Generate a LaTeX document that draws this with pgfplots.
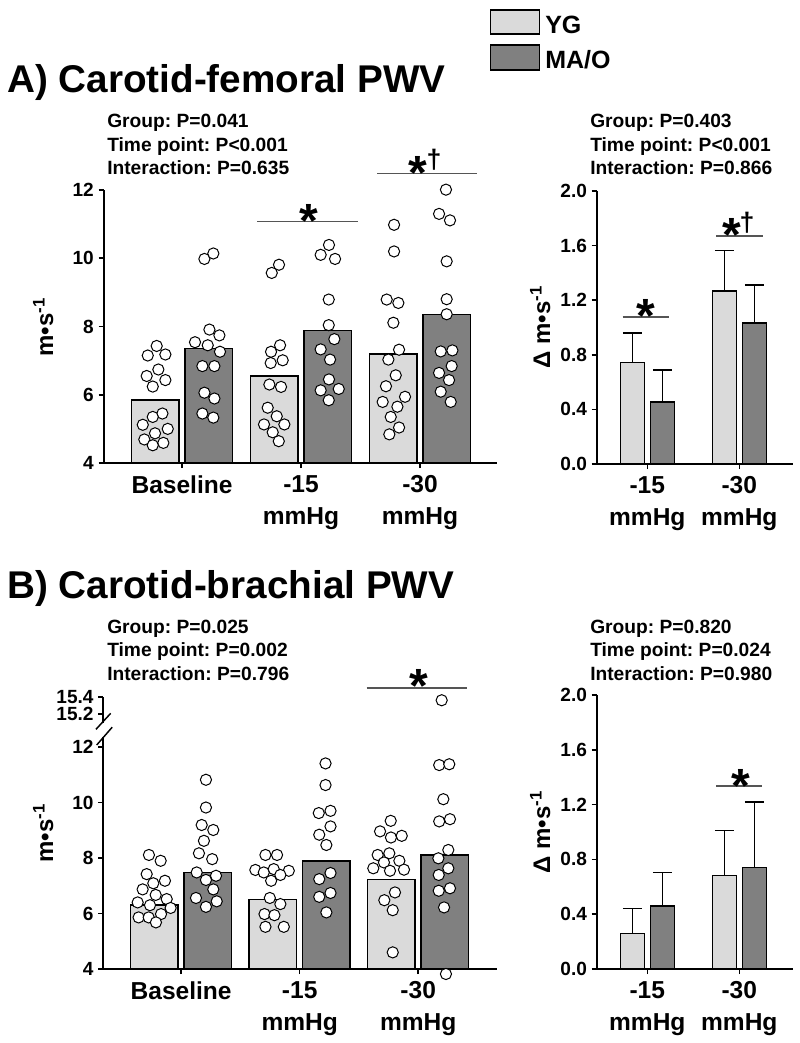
\documentclass[border=0pt]{standalone}
\usepackage{pgfplots}
\pgfplotsset{compat=1.18}
\usepackage{fontspec}
\setmainfont{Liberation Sans}
\frenchspacing
\definecolor{ygc}{RGB}{218,218,218}
\definecolor{mac}{RGB}{128,128,128}
\definecolor{sigc}{RGB}{85,85,85}
\pgfplotsset{
  panel/.style={scale only axis, axis lines*=left, axis line style={-, line width=1.5pt, black},
    tick align=outside, major tick length=3.75pt, tick style={line width=1.2pt, black},
    clip=false, enlargelimits=false,
    xticklabel style={align=center, font=\fontsize{18.4}{24}\selectfont\bfseries, yshift=-2pt},
    yticklabel style={font=\fontsize{14.3}{17}\selectfont\bfseries}},
  ygbar/.style={ybar, bar width=#1, fill=ygc, draw=black, line width=1.1pt},
  mabar/.style={ybar, bar width=#1, fill=mac, draw=black, line width=1.1pt},
  dots/.style={only marks, mark=*, mark size=4.2pt, mark options={fill=white, draw=black, line width=0.75pt}},
  ebar/.style={error bars/.cd, y dir=plus, y explicit, error bar style={line width=1.1pt, black},
    error mark options={rotate=90, mark size=7.1pt, line width=1.1pt, black}}
}
\begin{document}
\begin{tikzpicture}[x=0.75pt,y=0.75pt]
\path[use as bounding box] (0,0) rectangle (800,-1043);
\tikzset{stat/.style={anchor=base west, inner sep=0pt, font=\fontsize{14.4}{17}\selectfont\bfseries},
  ttl/.style={anchor=base west, inner sep=0pt, font=\fontsize{29}{30}\selectfont\bfseries},
  star/.style={anchor=base, inner sep=0pt, font=\fontsize{36}{36}\selectfont\bfseries},
  dag/.style={anchor=base, inner sep=0pt, font=\fontsize{20}{20}\selectfont\bfseries},
  ylab/.style={rotate=90, anchor=base, inner sep=0pt, font=\fontsize{18}{20}\selectfont\bfseries}}

% ---------------- Legend ----------------
\draw[line width=1.1pt, fill=ygc] (490.7,-10) rectangle (539.3,-34);
\draw[line width=1.1pt, fill=mac] (490.7,-45) rectangle (539.3,-70);
\node[anchor=base west, inner sep=0pt, font=\fontsize{18.75}{20}\selectfont\bfseries] at (545,-33) {YG};
\node[anchor=base west, inner sep=0pt, font=\fontsize{18.75}{20}\selectfont\bfseries] at (545,-68) {MA/O};

% ---------------- Titles and statistics ----------------
\node[ttl] at (7,-92) {A) Carotid-femoral PWV};
\node[ttl] at (7,-598.3) {B) Carotid-brachial PWV};
\node[stat] at (107,-127.7) {Group: P=0.041};
\node[stat] at (107,-151.3) {Time point: P<0.001};
\node[stat] at (107,-174.5) {Interaction: P=0.635};
\node[stat] at (590,-127.7) {Group: P=0.403};
\node[stat] at (590,-151.3) {Time point: P<0.001};
\node[stat] at (590,-174.5) {Interaction: P=0.866};
\node[stat] at (107,-633.3) {Group: P=0.025};
\node[stat] at (107,-656.7) {Time point: P=0.002};
\node[stat] at (107,-680) {Interaction: P=0.796};
\node[stat] at (590,-633.3) {Group: P=0.820};
\node[stat] at (590,-656.7) {Time point: P=0.024};
\node[stat] at (590,-680) {Interaction: P=0.980};

% ---------------- A, left ----------------
\begin{axis}[panel, at={(77.625pt,-347.25pt)}, anchor=south west, width=295.125pt, height=204.75pt,
  xmin=-0.660, xmax=2.647, ymin=0, ymax=8,
  y filter/.expression={y-4},
  xtick={0,1,2}, xticklabels={Baseline,{-15\\mmHg},{-30\\mmHg}},
  ytick={0,2,4,6,8}, yticklabels={4,6,8,10,12}]
\addplot[ygbar=35.6pt, bar shift=-20.06pt] coordinates {(0,5.85) (1,6.55) (2,7.20)};
\addplot[mabar=35.6pt, bar shift=20.06pt] coordinates {(0,7.36) (1,7.88) (2,8.35)};
\addplot[dots] coordinates {
(-0.213,7.43) (-0.288,7.15) (-0.140,7.18) (-0.199,6.74) (-0.297,6.55) (-0.140,6.43) (-0.246,6.24) (-0.165,5.45) (-0.246,5.35) (-0.330,5.12) (-0.120,5.00) (-0.227,4.87) (-0.317,4.69) (-0.157,4.59) (-0.246,4.52)
(0.815,9.81) (0.754,9.57) (0.824,7.45) (0.748,7.26) (0.846,7.01) (0.745,6.93) (0.734,6.30) (0.832,6.23) (0.720,5.62) (0.796,5.37) (0.689,5.13) (0.860,5.13) (0.762,4.90) (0.813,4.64)
(1.782,10.98) (1.782,10.20) (1.720,8.79) (1.818,8.69) (1.776,8.11) (1.824,7.32) (1.734,7.03) (1.796,6.57) (1.714,6.25) (1.686,5.79) (1.874,5.94) (1.810,5.65) (1.754,5.35) (1.824,5.04) (1.742,4.84)};
\addplot[dots] coordinates {
(0.188,9.98) (0.263,10.14) (0.230,7.91) (0.314,7.74) (0.109,7.54) (0.216,7.45) (0.319,7.26) (0.171,6.84) (0.272,6.84) (0.188,6.06) (0.272,5.89) (0.171,5.45) (0.263,5.33)
(1.235,10.39) (1.165,10.10) (1.286,9.98) (1.233,8.79) (1.233,8.04) (1.280,7.63) (1.165,7.33) (1.244,7.03) (1.235,6.45) (1.165,6.13) (1.317,6.17) (1.233,5.84)
(2.218,12.01) (2.160,11.30) (2.252,11.11) (2.224,9.91) (2.224,8.80) (2.224,8.36) (2.174,7.27) (2.272,7.30) (2.266,6.84) (2.160,6.64) (2.244,6.43) (2.174,6.09) (2.258,5.79)};
\end{axis}

% ---------------- A, right ----------------
\begin{axis}[panel, at={(447.525pt,-348pt)}, anchor=south west, width=147.45pt, height=204.75pt,
  xmin=-0.55, xmax=1.587, ymin=0, ymax=2,
  xtick={0,1}, xticklabels={{-15\\mmHg},{-30\\mmHg}},
  ytick={0,0.4,0.8,1.2,1.6,2.0}, yticklabels={0.0,0.4,0.8,1.2,1.6,2.0}]
\addplot[ygbar=18pt, bar shift=0pt, ebar] coordinates {(-0.163,0.745) +- (0,0.216) (0.837,1.266) +- (0,0.300)};
\addplot[mabar=18pt, bar shift=0pt, ebar] coordinates {(0.163,0.454) +- (0,0.234) (1.163,1.032) +- (0,0.278)};
\end{axis}

% ---------------- B, left ----------------
\begin{axis}[panel, at={(77.475pt,-726.75pt)}, anchor=south west, width=295.3pt, height=204.15pt,
  xmin=-0.657, xmax=2.665, ymin=0, ymax=9.81,
  y filter/.expression={y<13 ? y-4 : 9.19+3.1*(y-15.2)},
  xtick={0,1,2}, xticklabels={Baseline,{-15\\mmHg},{-30\\mmHg}},
  ytick={0,2,4,6,8,9.19,9.81}, yticklabels={4,6,8,10,12,15.2,15.4}]
\addplot[ygbar=35.6pt, bar shift=-20.06pt] coordinates {(0,6.30) (1,6.51) (2,7.22)};
\addplot[mabar=35.6pt, bar shift=20.06pt] coordinates {(0,7.47) (1,7.90) (2,8.11)};
\addplot[dots] coordinates {
(-0.272,8.11) (-0.173,7.90) (-0.291,7.42) (-0.137,7.18) (-0.235,7.09) (-0.325,6.87) (-0.215,6.67) (-0.122,6.52) (-0.367,6.40) (-0.263,6.30) (-0.089,6.20) (-0.170,5.98) (-0.359,5.86) (-0.274,5.86) (-0.213,5.68)
(0.711,8.11) (0.809,8.11) (0.626,7.57) (0.697,7.48) (0.781,7.60) (0.908,7.54) (0.837,7.39) (0.759,7.18) (0.748,6.56) (0.837,6.34) (0.703,5.98) (0.787,5.94) (0.711,5.52) (0.866,5.52)
(1.768,9.34) (1.678,8.96) (1.770,8.74) (1.861,8.80) (1.658,8.11) (1.756,8.17) (1.711,7.84) (1.841,7.90) (1.621,7.63) (1.762,7.54) (1.880,7.58) (1.804,6.76) (1.714,6.48) (1.785,6.12) (1.785,4.60)};
\addplot[dots] coordinates {
(0.209,10.82) (0.209,9.82) (0.173,9.19) (0.271,9.01) (0.192,8.62) (0.150,8.17) (0.262,7.96) (0.131,7.48) (0.294,7.36) (0.209,7.21) (0.271,6.87) (0.125,6.56) (0.300,6.44) (0.209,6.24)
(1.218,11.41) (1.218,10.63) (1.161,9.62) (1.260,9.70) (1.260,9.14) (1.165,8.84) (1.225,8.47) (1.260,7.46) (1.165,7.24) (1.260,6.74) (1.165,6.60) (1.225,6.04)
(2.198,15.36) (2.177,11.35) (2.262,11.38) (2.212,10.12) (2.177,9.32) (2.268,9.40) (2.254,8.29) (2.170,7.99) (2.254,7.63) (2.173,7.39) (2.173,6.82) (2.268,6.91) (2.218,6.22) (2.234,3.82)};
\end{axis}

% ---------------- B, right ----------------
\begin{axis}[panel, at={(447.525pt,-726.75pt)}, anchor=south west, width=147.45pt, height=205.5pt,
  xmin=-0.55, xmax=1.587, ymin=0, ymax=2,
  xtick={0,1}, xticklabels={{-15\\mmHg},{-30\\mmHg}},
  ytick={0,0.4,0.8,1.2,1.6,2.0}, yticklabels={0.0,0.4,0.8,1.2,1.6,2.0}]
\addplot[ygbar=18pt, bar shift=0pt, ebar] coordinates {(-0.163,0.260) +- (0,0.183) (0.837,0.681) +- (0,0.329)};
\addplot[mabar=18pt, bar shift=0pt, ebar] coordinates {(0.163,0.460) +- (0,0.243) (1.163,0.740) +- (0,0.479)};
\end{axis}

% ---------------- axis break (B, left) ----------------
\fill[white] (99,-722.5) rectangle (108,-736.5);
\draw[line width=1.1pt] (96,-729.3) -- (110.7,-713.3);
\draw[line width=1.1pt] (96.7,-745) -- (112.2,-727.2);

% ---------------- y labels ----------------
\node[ylab] at (53,-327) {m•s\textsuperscript{-1}};
\node[ylab] at (550,-327) {Δ m•s\textsuperscript{-1}};
\node[ylab] at (53,-833) {m•s\textsuperscript{-1}};
\node[ylab] at (550,-832) {Δ m•s\textsuperscript{-1}};

% ---------------- significance marks ----------------
\draw[sigc, line width=0.9pt] (257,-221.7) -- (357.7,-221.7);
\node[star] at (308.5,-237.7) {*};
\draw[sigc, line width=0.9pt] (377,-173.3) -- (477,-173.3);
\node[star] at (418,-189.2) {*};
\node[dag] at (434,-168.5) {†};
\draw[sigc, line width=0.9pt] (622.7,-317) -- (669.3,-317);
\node[star] at (646,-332.7) {*};
\draw[sigc, line width=0.9pt] (716,-236) -- (763,-236);
\node[star] at (732,-251.2) {*};
\node[dag] at (747,-231.5) {†};
\draw[sigc, line width=0.9pt] (366.7,-688) -- (466.7,-688);
\node[star] at (419,-702.7) {*};
\draw[sigc, line width=0.9pt] (716,-786) -- (761.7,-786);
\node[star] at (740.5,-802.7) {*};
\end{tikzpicture}
\end{document}
